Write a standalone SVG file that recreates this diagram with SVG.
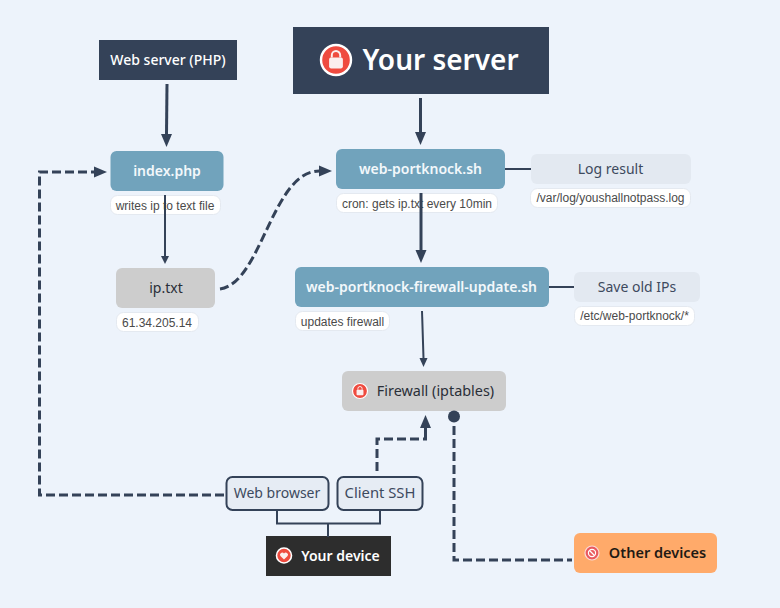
<svg xmlns="http://www.w3.org/2000/svg" width="780" height="608" viewBox="0 0 780 608">
<style>
text{font-family:"Noto Sans","Open Sans",sans-serif;text-anchor:middle}
.blue{fill:#71a3bc}
.bt{fill:#f3f8fb;font-size:14px;font-weight:600}
.grey{fill:#cdcdcd}
.gt{fill:#2a2f38;font-size:14px}
.pale{fill:#e3e9f1}
.pt{fill:#3d4a5e;font-size:14px}
.lab{fill:#fff;stroke:#e4e9f0;stroke-width:1}
.lt{font-family:"Liberation Sans",Arial,sans-serif;font-size:12px;fill:#4a4a4a}
.dev{fill:#e6ecf4;stroke:#344258;stroke-width:2}
.devt{fill:#3d4a5e;font-size:14px}
.s{fill:none;stroke:#344258;stroke-width:2}
.s3{fill:none;stroke:#344258;stroke-width:3}
.d{fill:none;stroke:#344258;stroke-width:3;stroke-dasharray:9 4}
.h{fill:#344258}
.ired{fill:#ef4b3f;stroke:#fff;stroke-width:1.6}
</style>
<defs>
<g id="lock"><circle r="10" class="ired"/><rect x="-4.6" y="-1.6" width="9.2" height="7.2" rx="1.2" fill="#fbeeee"/><path d="M-2.8-1.6V-3.2a2.8 2.8 0 0 1 5.6 0V-1.6" fill="none" stroke="#fbeeee" stroke-width="1.3"/></g>
</defs>
<rect width="780" height="608" fill="#edf3fb"/>
<g id="your-server"><rect x="293" y="27" width="256" height="67" fill="#344258"/><g transform="translate(336 60) scale(1.5)"><use href="#lock"/></g><text x="440.500" y="70" fill="#fff" font-size="28" font-weight="600">Your server</text></g>
<g id="web-server"><rect x="99" y="40" width="138" height="40" fill="#344258"/><text x="168" y="65" fill="#fff" font-size="14" font-weight="500">Web server (PHP)</text></g>
<g id="index-php"><rect class="blue" x="110.500" y="151" width="113" height="40" rx="6"/><text class="bt" x="167" y="176">index.php</text></g>
<g id="index-label"><rect class="lab" x="110.500" y="195.500" width="110" height="19" rx="7"/><text class="lt" x="165" y="209.500">writes ip to text file</text></g>
<g id="ip-txt"><rect class="grey" x="116" y="268" width="99" height="40" rx="6"/><text class="gt" x="166" y="293">ip.txt</text></g>
<g id="ip-label"><rect class="lab" x="116.500" y="312.500" width="82" height="19" rx="7"/><text class="lt" x="157" y="326.500">61.34.205.14</text></g>
<g id="web-portknock"><rect class="blue" x="336" y="149" width="169" height="40" rx="6"/><text class="bt" x="420.500" y="174">web-portknock.sh</text></g>
<g id="cron-label"><rect class="lab" x="336.500" y="193.500" width="161" height="19" rx="7"/><text class="lt" x="417" y="207.500">cron: gets ip.txt every 10min</text></g>
<g id="log-result"><rect class="pale" x="531" y="154" width="160" height="30" rx="6"/><text class="pt" x="610.500" y="174">Log result</text></g>
<g id="log-label"><rect class="lab" x="530.500" y="188.500" width="160" height="19" rx="7"/><text class="lt" x="610.500" y="202">/var/log/youshallnotpass.log</text></g>
<g id="firewall-update"><rect class="blue" x="295" y="267" width="254" height="40" rx="6"/><text class="bt" x="421.500" y="292">web-portknock-firewall-update.sh</text></g>
<g id="updates-label"><rect class="lab" x="295.500" y="311.500" width="94" height="19" rx="7"/><text class="lt" x="342.500" y="325.500">updates firewall</text></g>
<g id="save-ips"><rect class="pale" x="574" y="272" width="126" height="30" rx="6"/><text class="pt" x="637" y="292">Save old IPs</text></g>
<g id="save-label"><rect class="lab" x="574.500" y="306.500" width="120" height="19" rx="7"/><text class="lt" x="634.500" y="320">/etc/web-portknock/*</text></g>
<g id="firewall"><rect class="grey" x="342" y="371" width="164" height="40" rx="6"/><g transform="translate(360 391) scale(.75)"><use href="#lock"/></g><text class="gt" x="435.500" y="396" style="font-size:14.400px">Firewall (iptables)</text></g>
<g id="web-browser"><rect class="dev" x="226.500" y="477" width="102" height="33" rx="6"/><text class="devt" x="277" y="498">Web browser</text></g>
<g id="client-ssh"><rect class="dev" x="337.500" y="477" width="85" height="33" rx="6"/><text class="devt" x="380" y="498" style="font-size:14.800px">Client SSH</text></g>
<g id="your-device"><rect x="266" y="536" width="125" height="40" fill="#2d2d2d"/><circle class="ired" cx="284" cy="555.500" r="7.500"/><path d="M284 559.500l-3.600-3.400a2 2 0 0 1 3.600-2.500a2 2 0 0 1 3.600 2.500Z" fill="#fbeeee"/><text x="340.500" y="561" fill="#fff" font-size="14" font-weight="600">Your device</text></g>
<g id="other-devices"><rect x="574" y="533" width="143" height="40" rx="6" fill="#ffaa6a"/><circle cx="592" cy="553" r="7" fill="#ea5a5f" stroke="#fbdcd8" stroke-width="1.200"/><circle cx="592" cy="553" r="3.600" fill="none" stroke="#fff" stroke-width="1.200"/><path d="M589.500 550.500L594.500 555.500" stroke="#fff" stroke-width="1.200"/><text x="657.500" y="558" fill="#1f1a14" font-size="14.500" font-weight="600">Other devices</text></g>
<g id="connectors">
<path class="s3" d="M420.500 98V132"/><path class="h" d="M415 132H426L420.500 145Z"/>
<path class="s3" d="M167 84L166.500 134"/><path class="h" d="M161 134H172L166.500 147Z"/>
<path class="s" d="M165 195V256"/><path class="h" d="M161 256H169L165 264Z"/>
<path class="s3" d="M421 193V250"/><path class="h" d="M415.500 250H426.500L421 263Z"/>
<path class="s" d="M422 311L423.500 358"/><path class="h" d="M419.500 358H427.500L423.500 367Z"/>
<path class="s" d="M505 169H531"/>
<path class="s" d="M549 287H574"/>
<path class="d" d="M220 289C262 283 272 170 320 171"/><path class="h" d="M319 165.500L332 171L319 176.500Z"/>
<path class="d" d="M224 495H39.500V172H95"/><path class="h" d="M94 166.500L107 172L94 177.500Z"/>
<path class="d" d="M377 471V439H424"/><path class="s3" d="M425.500 440.500V427"/><path class="h" d="M420 428H431L425.500 415Z"/>
<circle class="h" cx="454" cy="416.500" r="6"/>
<path class="d" d="M454 426V560H572"/>
<path class="s" d="M277 510V523.500H380V510M328 523.500V537"/>
</g>
</svg>
